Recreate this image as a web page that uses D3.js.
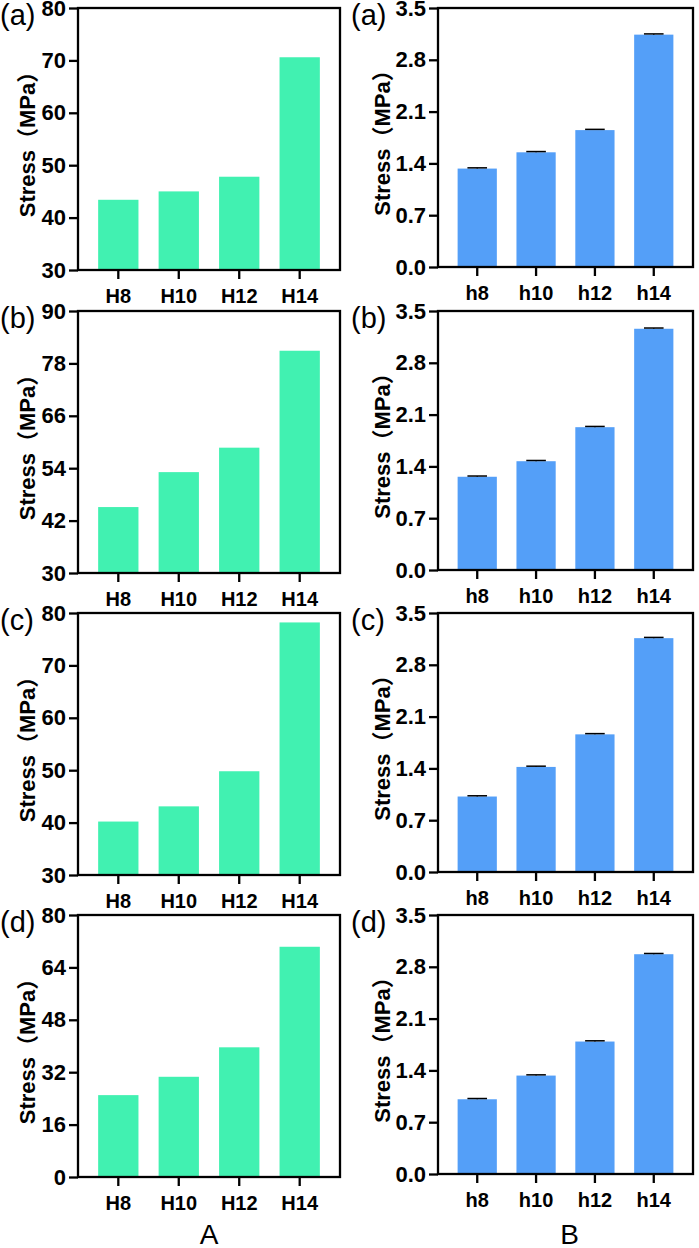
<!DOCTYPE html>
<html>
<head>
<meta charset="utf-8">
<script src="https://cdn.jsdelivr.net/npm/d3@7"></script>
<style>
  body { margin: 0; background: #fff; }
  text { font-family: "Liberation Sans", Arial, "Noto Sans CJK SC", sans-serif; fill: #000; }
  .tick text { font-weight: bold; font-size: 20px; }
  .y-axis .tick text { font-size: 22px; }
  .tick line { stroke: #000; stroke-width: 2.3; }
  .axis-title { font-weight: bold; font-size: 22px; }
  .panel-label { font-size: 29px; }
  .group-label { font-size: 28px; }
</style>
</head>
<body>
<svg id="chart" width="699" height="1248"></svg>
<script>
// DATA
const groupsA = ["H8", "H10", "H12", "H14"];
const groupsB = ["h8", "h10", "h12", "h14"];
const panelLabels = ["(a)", "(b)", "(c)", "(d)"];

// column A: stress per panel (a)-(d)
const stressA = [
  [43.4, 45.0, 47.8, 70.6],
  [45.1, 53.1, 58.7, 80.9],
  [40.2, 43.1, 49.8, 78.2],
  [25.0, 30.6, 39.6, 70.3]
];
const yTicksA = [
  [30, 40, 50, 60, 70, 80],
  [30, 42, 54, 66, 78, 90],
  [30, 40, 50, 60, 70, 80],
  [0, 16, 32, 48, 64, 80]
];

// column B: stress per panel (a)-(d) with small error
const stressB = [
  [1.33, 1.55, 1.85, 3.14],
  [1.26, 1.47, 1.93, 3.26],
  [1.02, 1.42, 1.86, 3.16],
  [1.01, 1.33, 1.79, 2.97]
];
const errB = [
  [0.01, 0.01, 0.01, 0.01],
  [0.01, 0.01, 0.01, 0.01],
  [0.01, 0.01, 0.01, 0.01],
  [0.01, 0.01, 0.01, 0.01]
];
const yTicksB = [0, 0.7, 1.4, 2.1, 2.8, 3.5];

// LAYOUT
const rowTops = [8, 311, 613, 915];
const cols = {
  A: { x0: 78, x1: 340, h: 262, labelX: 0, titleX: 28, color: "#41F1B1" },
  B: { x0: 438, x1: 693, h: 259, labelX: 351, titleX: 383, color: "#549FF8" }
};

const svg = d3.select("#chart");

function drawPanel(col, row, groups, values, ticks, fmt, errs) {
  const c = cols[col];
  const w = c.x1 - c.x0, h = c.h;
  const top = rowTops[row];
  const g = svg.append("g").attr("transform", `translate(${c.x0},${top})`);

  const x = d3.scaleBand().domain(groups).range([0, w])
    .paddingInner(1 / 3).paddingOuter(1 / 3);
  const y = d3.scaleLinear().domain([ticks[0], ticks[ticks.length - 1]]).range([h, 0]);

  // bars
  g.selectAll("rect.bar")
    .data(values)
    .join("rect")
    .attr("class", "bar")
    .attr("x", (d, i) => x(groups[i]))
    .attr("y", d => y(d))
    .attr("width", x.bandwidth())
    .attr("height", d => h - y(d))
    .attr("fill", c.color);

  // error caps (column B only)
  if (errs) {
    const cap = x.bandwidth() / 2;
    values.forEach((v, i) => {
      const cx = x(groups[i]) + x.bandwidth() / 2;
      g.append("line")
        .attr("x1", cx).attr("x2", cx)
        .attr("y1", y(v)).attr("y2", y(v + errs[i]))
        .attr("stroke", "#000").attr("stroke-width", 1.3);
      g.append("line")
        .attr("x1", cx - cap / 2).attr("x2", cx + cap / 2)
        .attr("y1", y(v + errs[i])).attr("y2", y(v + errs[i]))
        .attr("stroke", "#000").attr("stroke-width", 1.5);
    });
  }

  // axes
  g.append("g")
    .attr("transform", `translate(0,${h})`)
    .call(d3.axisBottom(x).tickSize(9).tickPadding(10))
    .call(a => a.select(".domain").remove())
    .selectAll("text").attr("font-family", null);

  g.append("g")
    .attr("class", "y-axis")
    .call(d3.axisLeft(y).tickValues(ticks).tickFormat(fmt).tickSize(9).tickPadding(3))
    .call(a => a.select(".domain").remove())
    .selectAll("text").attr("font-family", null);

  // frame
  g.append("rect")
    .attr("width", w).attr("height", h)
    .attr("fill", "none").attr("stroke", "#000").attr("stroke-width", 2.3);

  // y title
  svg.append("text")
    .attr("class", "axis-title")
    .attr("text-anchor", "middle")
    .attr("transform", `translate(${c.titleX + 7},${top + h / 2}) rotate(-90)`)
    .text("Stress（MPa）");

  // panel label
  svg.append("text")
    .attr("class", "panel-label")
    .attr("x", c.labelX)
    .attr("y", top + 17)
    .text(panelLabels[row]);
}

for (let r = 0; r < 4; r++) {
  drawPanel("A", r, groupsA, stressA[r], yTicksA[r], d3.format("d"), null);
  drawPanel("B", r, groupsB, stressB[r], yTicksB, d3.format(".1f"), errB[r]);
}

// column captions
svg.append("text").attr("class", "group-label").attr("text-anchor", "middle")
  .attr("x", (cols.A.x0 + cols.A.x1) / 2).attr("y", 1244).text("A");
svg.append("text").attr("class", "group-label").attr("text-anchor", "middle")
  .attr("x", (cols.B.x0 + cols.B.x1) / 2 + 4).attr("y", 1244).text("B");
</script>
</body>
</html>
